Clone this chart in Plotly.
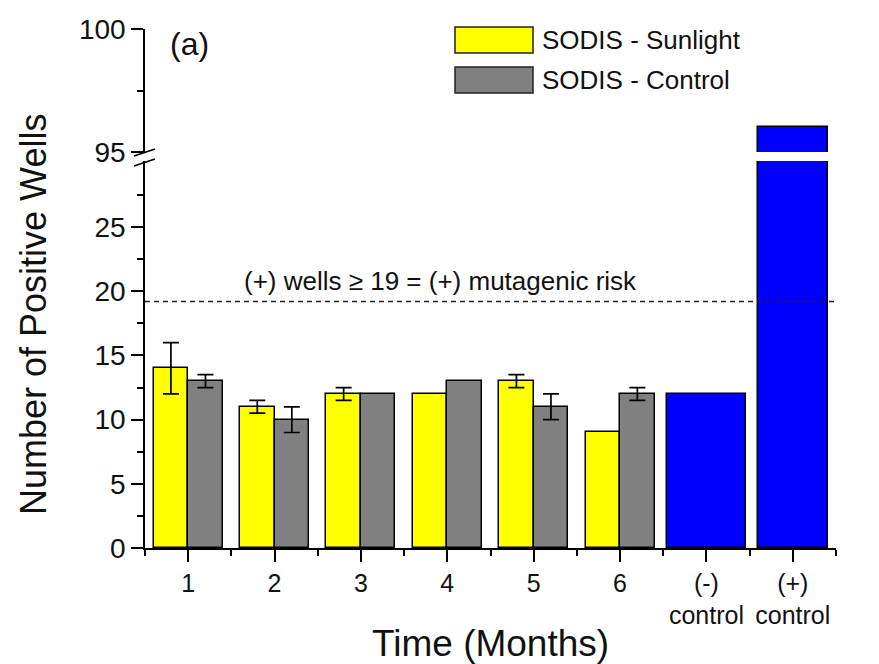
import plotly.graph_objects as go

# ---------------- data ----------------
months = [1, 2, 3, 4, 5, 6]
sunlight = [14, 11, 12, 12, 13, 9]
sunlight_err = [2, 0.5, 0.5, None, 0.5, None]
control = [13, 10, 12, 13, 11, 12]
control_err = [0.5, 1, None, None, 1, 0.5]
ctrl_pos = [7, 8]
ctrl_vals = [12, 96]
x_tick_vals = [1, 2, 3, 4, 5, 6, 7, 8]
x_tick_text = ["1", "2", "3", "4", "5", "6", "(-)<br>control", "(+)<br>control"]
threshold = 19.2

FONT = "Liberation Sans, Arial, sans-serif"
W, H = 879, 664
L, R, T, B = 145, 43, 29, 116

def px_x(p):
    return (p - L) / (W - L - R)

def px_y(p):
    return (H - B - p) / (H - T - B)

low_dom = [0, px_y(161)]
up_dom = [px_y(152), 1]

fig = go.Figure()

BAR_W = 0.4
fig.add_trace(go.Bar(
    x=months, y=sunlight, width=BAR_W, offset=-BAR_W,
    marker=dict(color="#ffff00", line=dict(color="black", width=1.5)),
    name="SODIS - Sunlight", showlegend=False,
))
fig.add_trace(go.Bar(
    x=months, y=control, width=BAR_W, offset=0,
    marker=dict(color="#808080", line=dict(color="black", width=1.5)),
    name="SODIS - Control", showlegend=False,
))

# error bars only where an error exists
def err_trace(vals, errs, shift):
    xs, ys, es = [], [], []
    for m, v, e in zip(months, vals, errs):
        if e is not None:
            xs.append(m + shift)
            ys.append(v)
            es.append(e)
    return go.Scatter(
        x=xs, y=ys, mode="markers", marker=dict(size=1, color="rgba(0,0,0,0)"),
        error_y=dict(type="data", array=es, visible=True, color="black",
                     thickness=1.7, width=8),
        showlegend=False, hoverinfo="skip",
    )

fig.add_trace(err_trace(sunlight, sunlight_err, -BAR_W / 2))
fig.add_trace(err_trace(control, control_err, BAR_W / 2))

fig.add_trace(go.Bar(
    x=ctrl_pos, y=ctrl_vals, width=[0.91, 0.81], offset=[-0.455, -0.405],
    marker=dict(color="#0000ff", line=dict(color="black", width=1.5)),
    showlegend=False,
))
# upper broken segment
fig.add_trace(go.Bar(
    x=ctrl_pos, y=ctrl_vals, width=[0.91, 0.81], offset=[-0.455, -0.405],
    marker=dict(color="#0000ff", line=dict(color="black", width=1.5)),
    showlegend=False, xaxis="x", yaxis="y2",
))

axis_font = dict(family=FONT, size=28, color="#111")

fig.update_layout(
    width=W, height=H,
    margin=dict(l=L, r=R, t=T, b=B, autoexpand=False),
    paper_bgcolor="white", plot_bgcolor="white",
    bargap=0, barmode="overlay",
    xaxis=dict(
        range=[0.5, 8.5], domain=[0, 1], anchor="y",
        showline=True, linecolor="black", linewidth=1.5,
        tickmode="array", tickvals=x_tick_vals, ticktext=x_tick_text,
        ticks="outside", ticklen=12, tickwidth=1.5, tickcolor="black",
        tickfont=dict(family=FONT, size=25, color="#111"),
        minor=dict(tickvals=[0.5 + i for i in range(9)], ticks="outside",
                   ticklen=6, tickwidth=1.5, tickcolor="black"),
        showgrid=False, zeroline=False, fixedrange=True,
    ),
    yaxis=dict(
        range=[0, 30.15], domain=low_dom, anchor="x",
        showline=True, linecolor="black", linewidth=1.5,
        tickmode="array", tickvals=[0, 5, 10, 15, 20, 25],
        ticks="outside", ticklen=12, tickwidth=1.5, tickcolor="black",
        tickfont=axis_font,
        minor=dict(tickvals=[2.5, 7.5, 12.5, 17.5, 22.5, 27.5], ticks="outside",
                   ticklen=6, tickwidth=1.5, tickcolor="black"),
        showgrid=False, zeroline=False,
    ),
    yaxis2=dict(
        range=[95, 100], domain=up_dom, anchor="x",
        showline=True, linecolor="black", linewidth=1.5,
        tickmode="array", tickvals=[95, 100],
        ticks="outside", ticklen=12, tickwidth=1.5, tickcolor="black",
        tickfont=axis_font,
        minor=dict(tickvals=[97.5], ticks="outside",
                   ticklen=6, tickwidth=1.5, tickcolor="black"),
        showgrid=False, zeroline=False,
    ),
)

shapes = []
# threshold dashed line
shapes.append(dict(type="line", xref="paper", x0=0, x1=1, yref="y", y0=threshold, y1=threshold,
                   line=dict(color="#222", width=1.5, dash="5px,4px")))
# axis break marks
for yb in (156, 166):
    shapes.append(dict(type="line", xref="paper", yref="paper",
                       x0=px_x(134), x1=px_x(155), y0=px_y(yb), y1=px_y(yb - 7),
                       line=dict(color="black", width=1.5)))
# legend boxes
for (y0, y1, col) in ((27, 53, "#ffff00"), (67, 93, "#808080")):
    shapes.append(dict(type="rect", xref="paper", yref="paper",
                       x0=px_x(455), x1=px_x(533), y0=px_y(y1), y1=px_y(y0),
                       fillcolor=col, line=dict(color="#222", width=1.5)))
fig.update_layout(shapes=shapes)

ann = []
ann.append(dict(text="SODIS - Sunlight", xref="paper", yref="paper", x=px_x(540), y=px_y(40),
                xanchor="left", yanchor="middle", showarrow=False,
                font=dict(family=FONT, size=26, color="#111")))
ann.append(dict(text="SODIS - Control", xref="paper", yref="paper", x=px_x(540), y=px_y(80),
                xanchor="left", yanchor="middle", showarrow=False,
                font=dict(family=FONT, size=26, color="#111")))
ann.append(dict(text="(a)", xref="paper", yref="paper", x=px_x(189), y=px_y(44),
                xanchor="center", yanchor="middle", showarrow=False,
                font=dict(family=FONT, size=32, color="#111")))
ann.append(dict(text="(+) wells \u2265 19 = (+) mutagenic risk", xref="paper", yref="paper",
                x=px_x(440), y=px_y(281), xanchor="center", yanchor="middle", showarrow=False,
                font=dict(family=FONT, size=26, color="#111")))
ann.append(dict(text="Number of Positive Wells", xref="paper", yref="paper",
                x=px_x(33), y=px_y(315), xanchor="center", yanchor="middle", textangle=-90,
                showarrow=False, font=dict(family=FONT, size=36, color="#111")))
ann.append(dict(text="Time (Months)", xref="paper", yref="paper",
                x=px_x(490), y=px_y(643), xanchor="center", yanchor="middle",
                showarrow=False, font=dict(family=FONT, size=37, color="#111")))
fig.update_layout(annotations=ann)

fig.write_html("out.html")
